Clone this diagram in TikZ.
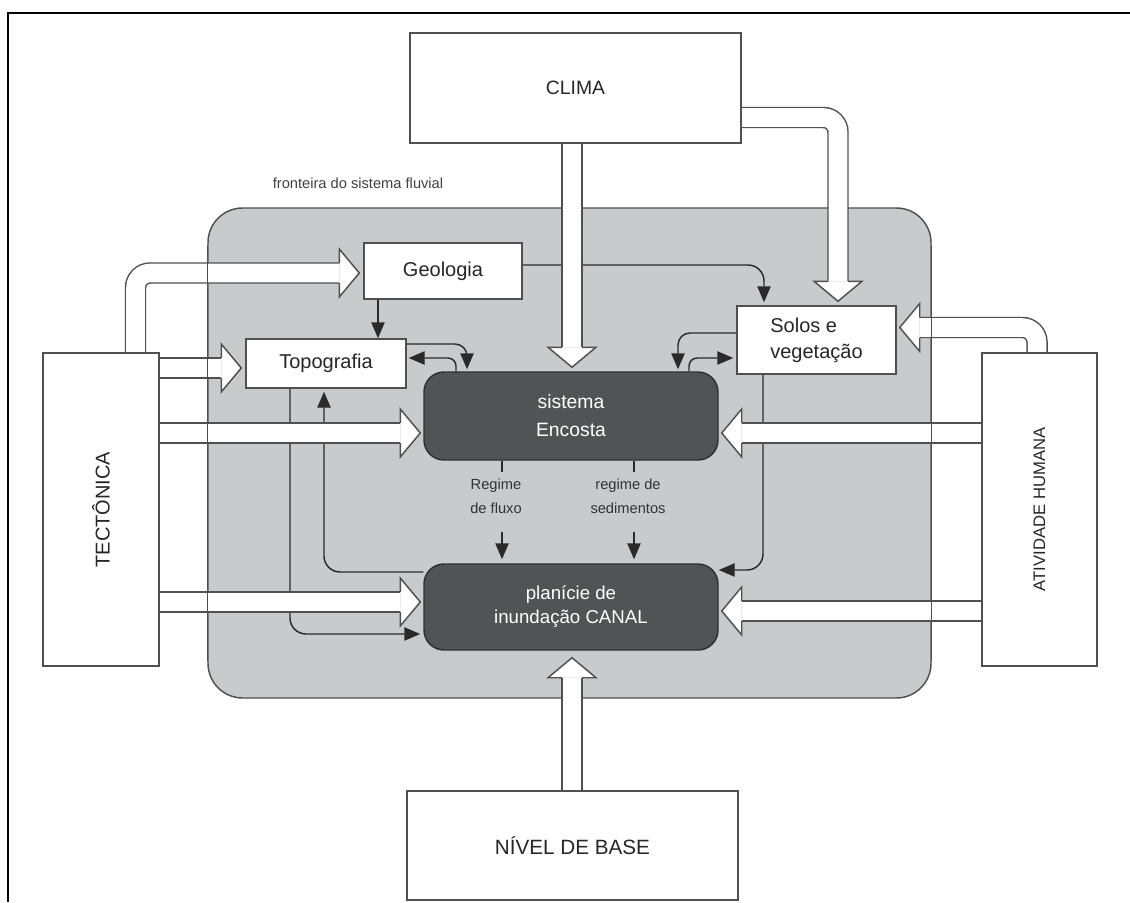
\documentclass[tikz,border=0pt]{standalone}
\usepackage{fontspec}
\setmainfont{Liberation Sans}
\usetikzlibrary{calc,arrows.meta}
\pgfdeclarelayer{back}
\pgfdeclarelayer{front}
\pgfsetlayers{back,main,front}
\definecolor{lc}{HTML}{505050}
\definecolor{bgc}{HTML}{C9CACC}
\definecolor{dk}{HTML}{525355}
\definecolor{cn}{HTML}{2A2A2A}
\newcommand\fs[2]{\fontsize{#1}{#2}\selectfont}
% block arrow: #1 shaft path (ends at head base), #2 head base, #3 tip
\newcommand\blockarrow[3]{%
  \draw[shaft] #1;
  \filldraw[bhead] ($(#2)!7.5pt!90:(#3)$) -- ($(#2)!18pt!90:(#3)$) -- (#3)
     -- ($(#2)!18pt!-90:(#3)$) -- ($(#2)!7.5pt!-90:(#3)$);
}
\newcommand\straightblock[2]{%
  \coordinate (hb) at ($(#2)!15pt!(#1)$);
  \blockarrow{(#1) -- (hb)}{hb}{#2}%
}
\begin{document}
\begin{tikzpicture}[x=0.75pt,y=-0.75pt,
  box/.style={draw=lc, line width=1.1pt, fill=white, inner sep=0pt, align=center, text=black!85},
  dbox/.style={draw=lc!60!black, line width=1.1pt, fill=dk, rounded corners=15pt, inner sep=0pt, align=center, text=white},
  conn/.style={draw=cn, line width=1.1pt, -{Triangle[length=12pt,width=10pt]}},
  tick/.style={draw=cn, line width=1.1pt},
  shaft/.style={draw=lc, line width=1.1pt, double=white, double distance=13.9pt, rounded corners=11pt},
  bhead/.style={draw=lc, fill=white, line width=1.1pt, line join=miter},
  bline/.style={draw=lc, line width=1.1pt},
  lbl/.style={font=\fs{11}{18}, text=black!80, align=center, inner sep=0pt}]
\useasboundingbox (0,0) rectangle (1130,902);

% ---------- boxes (front layer) ----------
\begin{pgfonlayer}{front}
\node[box, minimum width=248.25pt, minimum height=82.5pt, font=\fs{14.5}{18}] (clima) at (575.5,88) {CLIMA};
\node[box, minimum width=118.5pt, minimum height=42pt, font=\fs{15}{19}] (geo) at (443,271) {Geologia};
\node[box, minimum width=120pt, minimum height=36.75pt, font=\fs{15}{19}] (topo) at (326,363.5) {Topografia};
\node[box, minimum width=119.25pt, minimum height=51pt, font=\fs{15}{19.5}, align=left] (solos) at (816.5,340) {Solos e\\vegeta\c{c}\~ao};
\node[box, minimum width=87pt, minimum height=234.75pt] (tec) at (101,509.5) {};
\node[rotate=90, font=\fs{15}{18}, text=black!85] (tect) at (tec.center) {TECTÔNICA};
\node[box, minimum width=86.25pt, minimum height=234.75pt] (ah) at (1039.5,509.5) {};
\node[rotate=90, font=\fs{12.5}{15}, text=black!85] (aht) at (ah.center) {ATIVIDADE HUMANA};
\node[dbox, minimum width=220.5pt, minimum height=66pt, font=\fs{14.5}{21}] (enc) at (571,416) {sistema\\Encosta};
\node[dbox, minimum width=220.5pt, minimum height=64.5pt, font=\fs{14}{18}] (pla) at (571,607) {planície de\\inundação CANAL};
\node[box, minimum width=248.25pt, minimum height=81.75pt, font=\fs{15.5}{19}] (nb) at (572.5,845.5) {NÍVEL DE BASE};
\end{pgfonlayer}

% ---------- river system boundary (back layer) ----------
\begin{pgfonlayer}{back}
\node[draw=lc, line width=1.1pt, fill=bgc, rounded corners=26pt, minimum width=542.25pt, minimum height=367.5pt, inner sep=0pt] (bnd) at (569.5,453) {};
\node[font=\fs{11}{13}, text=black!75, inner sep=0pt] (front) at (358,183) {fronteira do sistema fluvial};
\end{pgfonlayer}

% outer frame
\draw[line width=1.6pt] (8,902) -- (8,13) -- (1131,13);

% ---------- thin connectors ----------
\draw[conn] (geo.south -| 378,0) -- (topo.north -| 378,0);
\draw[conn, rounded corners=12pt] (geo.east |- 0,265) -| ($(solos.north -| 764,0)+(0,-3)$);
\draw[conn, rounded corners=9pt] (topo.east |- 0,344) -| ($(enc.north -| 467,0)+(0,-2)$);
\draw[conn, rounded corners=6pt] (enc.north -| 456,0) |- ($(topo.east |- 0,358)+(2,0)$);
\draw[conn, rounded corners=9pt] (solos.west |- 0,333) -| ($(enc.north -| 678,0)+(0,-2)$);
\draw[conn, rounded corners=6pt] (enc.north -| 689,0) |- ($(solos.west |- 0,358)+(-3,0)$);
\draw[conn, rounded corners=12pt] (topo.south -| 290,0) |- ($(pla.west |- 0,634)+(-3,0)$);
\draw[conn, rounded corners=12pt] (pla.west |- 0,572) -| ($(topo.south -| 324,0)+(0,3)$);
\draw[conn, rounded corners=12pt] (solos.south -| 763,0) |- (pla.east |- 0,570);

% flow / sediment regimes
\draw[tick] (enc.south -| 502,0) -- ++(0,11);
\draw[tick] (enc.south -| 634,0) -- ++(0,11);
\node[lbl] (rf) at (496,496) {Regime\\de fluxo};
\node[lbl] (rs) at (628,496) {regime de\\sedimentos};
\coordinate (r1) at (502,532);
\coordinate (r2) at (634,532);
\draw[conn] (r1) -- ($(pla.north -| 502,0)+(0,-4)$);
\draw[conn] (r2) -- ($(pla.north -| 634,0)+(0,-4)$);

% ---------- block arrows ----------
\coordinate (s1) at (tec.east |- 0,368);
\coordinate (e1) at ($(topo.west |- 0,368)+(-4,0)$);
\coordinate (s2) at (tec.east |- 0,433);
\coordinate (e2) at ($(enc.west |- 0,433)+(-3,0)$);
\coordinate (s3) at (tec.east |- 0,602);
\coordinate (e3) at ($(pla.west |- 0,602)+(-3,0)$);
\coordinate (s4) at (ah.west |- 0,433);
\coordinate (e4) at ($(enc.east |- 0,433)+(3,0)$);
\coordinate (s5) at (ah.west |- 0,611);
\coordinate (e5) at ($(pla.east |- 0,611)+(3,0)$);
\coordinate (s6) at (clima.south -| 572,0);
\coordinate (e6) at ($(enc.north -| 572,0)+(0,-4)$);
\coordinate (s7) at (nb.north -| 572,0);
\coordinate (e7) at ($(pla.south -| 572,0)+(0,7)$);
\straightblock{s1}{e1}
\straightblock{s2}{e2}
\straightblock{s3}{e3}
\straightblock{s4}{e4}
\straightblock{s5}{e5}
\straightblock{s6}{e6}
\straightblock{s7}{e7}

% CLIMA -> Solos e vegetacao
\coordinate (c1) at (clima.east |- 0,117.5);
\coordinate (e8) at ($(solos.north -| 838,0)+(0,-4)$);
\coordinate (b8) at ($(e8)+(0,-20)$);
\blockarrow{(c1) -| (b8)}{b8}{e8}
% TECTONICA -> Geologia
\coordinate (c2) at (tec.north -| 135.5,0);
\coordinate (e9) at ($(geo.west |- 0,273)+(-4,0)$);
\coordinate (b9) at ($(e9)+(-20,0)$);
\blockarrow{(c2) |- (b9)}{b9}{e9}
% ATIVIDADE HUMANA -> Solos e vegetacao
\coordinate (c3) at (ah.north -| 1037,0);
\coordinate (e10) at ($(solos.east |- 0,327.5)+(3,0)$);
\coordinate (b10) at ($(e10)+(20,0)$);
\blockarrow{(c3) |- (b10)}{b10}{e10}

% boundary side edges drawn over the arrows
\draw[bline] ([yshift=-28pt]bnd.north west) -- ([yshift=28pt]bnd.south west);
\draw[bline] ([yshift=-28pt]bnd.north east) -- ([yshift=28pt]bnd.south east);
\end{tikzpicture}
\end{document}
